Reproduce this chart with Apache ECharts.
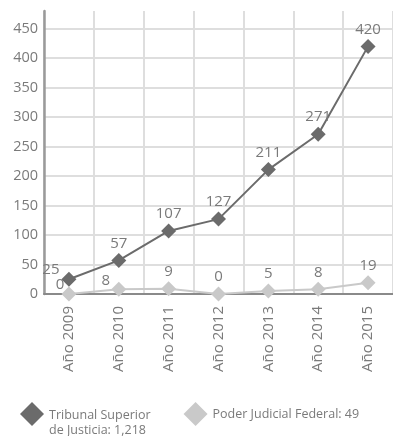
<!DOCTYPE html>
<html>
<head>
<meta charset="utf-8">
<script src="https://cdn.jsdelivr.net/npm/echarts@6/dist/echarts.min.js"></script>
<style>
  html, body { margin: 0; padding: 0; background: #ffffff; }
  #chart { width: 393px; height: 436px; }
</style>
</head>
<body>
<div id="chart"></div>
<script>
// Casos por año
const categories = ['Año 2009', 'Año 2010', 'Año 2011', 'Año 2012', 'Año 2013', 'Año 2014', 'Año 2015'];
const tribunalSuperior = [25, 57, 107, 127, 211, 271, 420];
const poderJudicial = [0, 8, 9, 0, 5, 8, 19];
const yTicks = [0, 50, 100, 150, 200, 250, 300, 350, 400, 450];
const seriesNames = ['Tribunal Superior de Justicia', 'Poder Judicial Federal'];

const sum = arr => arr.reduce((a, b) => a + b, 0);
const fmtTotal = n => n.toLocaleString('en-US');

// label nudges for the crowded low points on the left
const darkLabelOffset = { 0: [-18, 7] };
const lightLabelOffset = { 0: [-9, 8], 1: [-13, 8] };

function withOffsets(values, offsets) {
  return values.map((v, i) => offsets[i] ? { value: v, label: { offset: offsets[i] } } : v);
}

const FONT = '"Open Sans", sans-serif';
const TEXT = '#7a7a7a';
const DARK = '#6b6b6b';
const LIGHT = '#c9c9c9';

const yMax = 480;
const yStep = yTicks[1] - yTicks[0];
// one colour per horizontal rule; the rule at the top edge is left out
const splitColors = yTicks.map(() => '#dedede').concat(['rgba(0,0,0,0)']);

const chart = echarts.init(document.getElementById('chart'), null, { renderer: 'canvas' });

chart.setOption({
  animation: false,
  backgroundColor: '#ffffff',
  textStyle: { fontFamily: FONT },
  grid: { left: 44, right: 0, top: 11, bottom: 142, containLabel: false },
  xAxis: {
    type: 'category',
    data: categories,
    boundaryGap: true,
    axisLine: { show: true, lineStyle: { color: '#8a8a8a', width: 2 } },
    axisTick: { show: false },
    splitLine: { show: true, lineStyle: { color: '#dedede', width: 2 } },
    axisLabel: {
      rotate: 90,
      margin: 12,
      color: TEXT,
      fontSize: 15,
      fontFamily: FONT
    }
  },
  yAxis: {
    type: 'value',
    min: yTicks[0],
    max: yMax,
    interval: yStep,
    axisLine: { show: true, lineStyle: { color: '#9a9a9a', width: 2.5 } },
    axisTick: { show: false },
    splitLine: { show: true, lineStyle: { color: splitColors, width: 2 } },
    axisLabel: {
      margin: 6,
      color: TEXT,
      fontSize: 14.5,
      fontFamily: FONT,
      formatter: v => (yTicks.indexOf(v) >= 0 ? String(v) : '')
    }
  },
  legend: {
    left: 15,
    top: 397,
    itemGap: 33,
    itemWidth: 24,
    itemHeight: 24,
    selectedMode: false,
    textStyle: {
      color: TEXT,
      fontSize: 12.5,
      fontFamily: FONT,
      rich: {
        // tall empty strut so the first line sits level with the icon
        s: { fontSize: 1, lineHeight: 32, width: 0 },
        a: { color: TEXT, fontSize: 12.5, fontFamily: FONT, lineHeight: 16, verticalAlign: 'bottom' },
        b: { color: TEXT, fontSize: 12.5, fontFamily: FONT, lineHeight: 16 }
      }
    },
    data: [
      { name: seriesNames[0], icon: 'diamond', itemStyle: { color: DARK } },
      { name: seriesNames[1], icon: 'diamond', itemStyle: { color: LIGHT } }
    ],
    formatter: name => {
      if (name === seriesNames[0]) {
        return '{s| }{a|Tribunal Superior}\n{b|de Justicia: ' + fmtTotal(sum(tribunalSuperior)) + '}';
      }
      return name + ': ' + fmtTotal(sum(poderJudicial));
    }
  },
  series: [
    {
      name: seriesNames[1],
      type: 'line',
      data: withOffsets(poderJudicial, lightLabelOffset),
      symbol: 'diamond',
      symbolSize: 15,
      lineStyle: { color: LIGHT, width: 2 },
      itemStyle: { color: LIGHT },
      label: {
        show: true,
        position: 'top',
        distance: 2,
        color: TEXT,
        fontSize: 15,
        fontFamily: FONT
      },
      z: 2
    },
    {
      name: seriesNames[0],
      type: 'line',
      data: withOffsets(tribunalSuperior, darkLabelOffset),
      symbol: 'diamond',
      symbolSize: 15,
      lineStyle: { color: DARK, width: 2 },
      itemStyle: { color: DARK },
      label: {
        show: true,
        position: 'top',
        distance: 2,
        color: TEXT,
        fontSize: 15,
        fontFamily: FONT
      },
      z: 3
    }
  ]
});
</script>
</body>
</html>
